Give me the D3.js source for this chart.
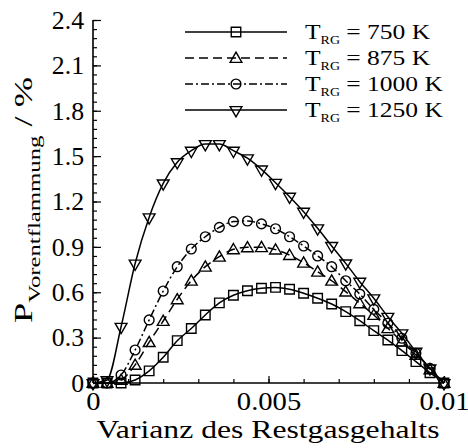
<!DOCTYPE html>
<html>
<head>
<meta charset="utf-8">
<script src="https://cdn.jsdelivr.net/npm/d3@7"></script>
<style>
  body { margin: 0; background: #fff; }
  text { font-family: "Liberation Serif", "DejaVu Serif", serif; fill: #000; }
</style>
</head>
<body>
<figure style="margin:0"></figure>
<script>
// x: Varianz des Restgasgehalts, steps of 0.0004
const varianz = [0, 0.0004, 0.0008, 0.0012, 0.0016, 0.0020, 0.0024, 0.0028, 0.0032, 0.0036,
  0.0040, 0.0044, 0.0048, 0.0052, 0.0056, 0.0060, 0.0064, 0.0068, 0.0072, 0.0076,
  0.0080, 0.0084, 0.0088, 0.0092, 0.0096, 0.0100];

const p750 = [0, 0, 0, 0.02, 0.08, 0.17, 0.28, 0.36, 0.45, 0.53,
  0.58, 0.61, 0.626, 0.632, 0.62, 0.593, 0.56, 0.522, 0.472, 0.412,
  0.346, 0.284, 0.214, 0.141, 0.068, 0];
const p875 = [0, 0, 0.02, 0.12, 0.27, 0.41, 0.553, 0.676, 0.769, 0.835,
  0.884, 0.897, 0.898, 0.882, 0.846, 0.795, 0.736, 0.676, 0.604, 0.527,
  0.45, 0.362, 0.273, 0.185, 0.09, 0];
const p1000 = [0, 0, 0.053, 0.218, 0.417, 0.608, 0.769, 0.886, 0.967, 1.029,
  1.067, 1.071, 1.052, 1.02, 0.967, 0.906, 0.84, 0.769, 0.676, 0.588,
  0.487, 0.395, 0.296, 0.196, 0.097, 0];
const p1250 = [0, 0.02, 0.372, 0.79, 1.096, 1.32, 1.46, 1.536, 1.58, 1.58,
  1.536, 1.486, 1.412, 1.324, 1.232, 1.133, 1.023, 0.906, 0.791, 0.67,
  0.56, 0.438, 0.329, 0.207, 0.097, 0];

const seriesNames = ['750', '875', '1000', '1250'];
const seriesValues = [p750, p875, p1000, p1250];
const seriesMarkers = ['square', 'triangle', 'circle', 'triangleDown'];
const seriesDash = [null, '9,5', '8,3,2,3', null];

const yTicks = [0, 0.3, 0.6, 0.9, 1.2, 1.5, 1.8, 2.1, 2.4];
const xTicks = [0, 0.005, 0.01];
const xTickLabels = ['0', '0.005', '0.01'];

// stretch text horizontally to mimic the wider original font
const widen = (sel, f) => sel.each(function () {
  const len = this.getComputedTextLength();
  d3.select(this).attr('textLength', len * f).attr('lengthAdjust', 'spacingAndGlyphs');
});

(() => {
  const totalWidth = 468;
  const totalHeight = 448;
  const margin = {top: 20, right: 24, bottom: 65, left: 93};
  const graphWidth = totalWidth - margin.left - margin.right;
  const graphHeight = totalHeight - margin.top - margin.bottom;

  const svg = d3.select('figure').append('svg')
    .attr('width', totalWidth)
    .attr('height', totalHeight);

  const g = svg.append('g').attr('transform', 'translate(' + margin.left + ',' + margin.top + ')');

  const x = d3.scaleLinear().domain([0, 0.01]).range([0, graphWidth]);
  const y = d3.scaleLinear().domain([0, 2.4]).range([graphHeight, 0]);

  // minor ticks
  g.append('g')
      .attr('transform', 'translate(0,' + graphHeight + ')')
      .call(d3.axisTop(x).tickValues(d3.range(0, 0.01001, 0.001)).tickSize(4).tickFormat(''))
      .call(s => s.select('.domain').remove());
  g.append('g')
      .call(d3.axisRight(y).tickValues(d3.range(0, 2.4001, 0.06)).tickSize(4).tickFormat(''))
      .call(s => s.select('.domain').remove());

  // major ticks + labels
  const xAxis = g.append('g')
      .attr('transform', 'translate(0,' + graphHeight + ')')
      .call(d3.axisTop(x).tickValues(xTicks).tickSize(7).tickFormat(''));
  xAxis.select('.domain').attr('d', 'M0,0H' + graphWidth).attr('stroke-width', 1.6);
  xAxis.selectAll('.tick').append('text')
      .attr('y', 27)
      .attr('text-anchor', 'middle')
      .style('font-size', '26px')
      .text((d, i) => xTickLabels[i])
      .call(widen, 1.1);

  const yAxis = g.append('g')
      .call(d3.axisRight(y).tickValues(yTicks).tickSize(8).tickFormat(''));
  yAxis.select('.domain').attr('d', 'M0,0V' + graphHeight).attr('stroke-width', 1.6);
  yAxis.selectAll('.tick').append('text')
      .attr('x', -9)
      .attr('dy', '0.33em')
      .attr('text-anchor', 'end')
      .style('font-size', '25px')
      .text(d => d === 0 ? '0' : d.toFixed(1))
      .call(widen, 1.03);

  svg.selectAll('.tick line').attr('stroke', '#000').attr('stroke-width', 1.2);

  // axis titles
  svg.append('text')
      .attr('x', 268)
      .attr('y', 438)
      .attr('text-anchor', 'middle')
      .attr('textLength', 343)
      .attr('lengthAdjust', 'spacingAndGlyphs')
      .style('font-size', '26px')
      .text('Varianz des Restgasgehalts');

  const yTitle = svg.append('text')
      .attr('transform', 'translate(32,200) rotate(-90)')
      .attr('text-anchor', 'middle')
      .attr('textLength', 246)
      .attr('lengthAdjust', 'spacingAndGlyphs')
      .style('font-size', '25px');
  yTitle.append('tspan').text('P');
  yTitle.append('tspan').attr('dy', 8).style('font-size', '17px').text('Vorentflammung');
  yTitle.append('tspan').attr('dy', -8).text(' / %');

  const symbols = {
    square: d3.symbol(d3.symbolSquare, 90),
    triangle: d3.symbol(d3.symbolTriangle, 60),
    circle: d3.symbol(d3.symbolCircle, 75),
    triangleDown: d3.symbol(d3.symbolTriangle, 60)
  };
  const rot = (m) => m === 'triangleDown' ? ' rotate(180)' : (m === 'triangle' ? ' translate(0,1)' : '');

  const line = d3.line()
    .x((d, i) => x(varianz[i]))
    .y(d => y(d))
    .curve(d3.curveMonotoneX);

  seriesValues.forEach((vals, k) => {
    g.append('path')
      .datum(vals)
      .attr('fill', 'none')
      .attr('stroke', '#000')
      .attr('stroke-width', 1.5)
      .attr('stroke-dasharray', seriesDash[k])
      .attr('d', line);

    g.selectAll('.m' + k)
      .data(vals)
      .enter().append('path')
      .attr('class', 'm' + k)
      .attr('transform', (d, i) => 'translate(' + x(varianz[i]) + ',' + y(d) + ')' + rot(seriesMarkers[k]))
      .attr('d', symbols[seriesMarkers[k]]())
      .attr('fill', 'none')
      .attr('stroke', '#000')
      .attr('stroke-width', 1.4);
  });

  // legend
  const legend = svg.append('g').attr('transform', 'translate(185,32)');
  seriesNames.forEach((name, k) => {
    const row = legend.append('g').attr('transform', 'translate(0,' + (k * 26) + ')');
    row.append('line')
      .attr('x1', 0).attr('x2', 102)
      .attr('stroke', '#000')
      .attr('stroke-width', 1.5)
      .attr('stroke-dasharray', seriesDash[k]);
    row.append('path')
      .attr('transform', 'translate(51,0)' + rot(seriesMarkers[k]))
      .attr('d', symbols[seriesMarkers[k]]())
      .attr('fill', 'none')
      .attr('stroke', '#000')
      .attr('stroke-width', 1.4);
    const t = row.append('text')
      .attr('x', 120)
      .attr('y', 7)
      .style('font-size', '22px');
    t.append('tspan').text('T');
    t.append('tspan').attr('dy', 5).style('font-size', '12px').text('RG');
    t.append('tspan').attr('dy', -5).text(' = ' + name + ' K');
    widen(t, 1.16);
  });
})();
</script>
</body>
</html>
